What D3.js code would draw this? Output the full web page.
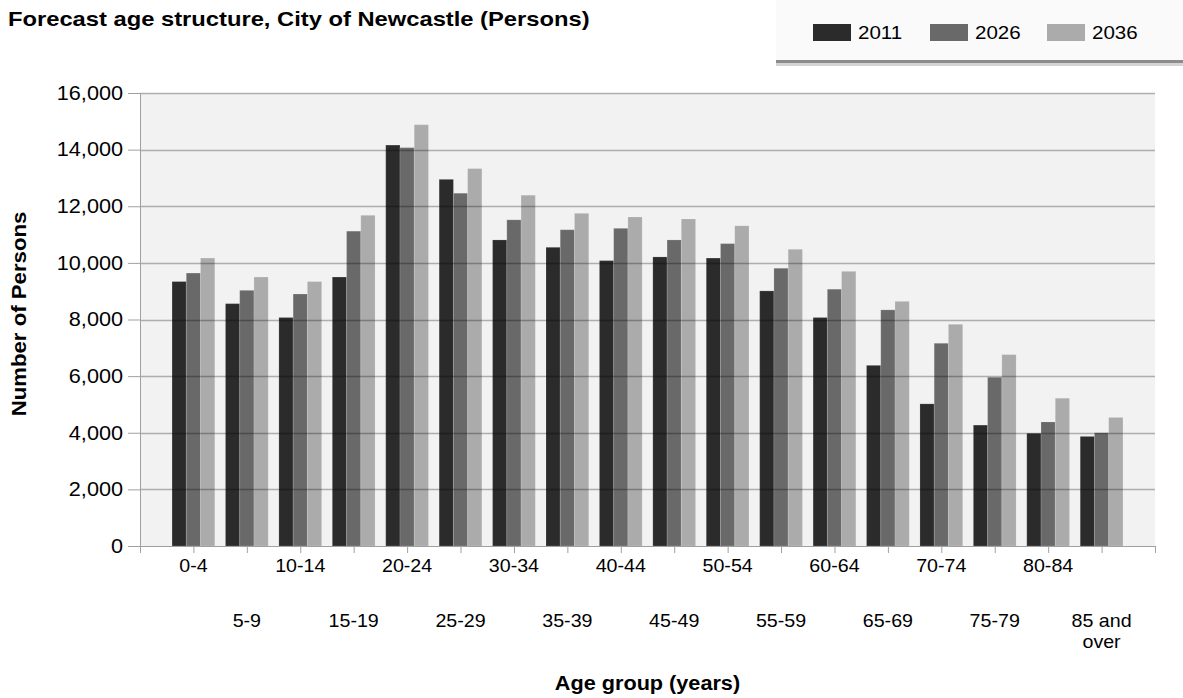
<!DOCTYPE html>
<html>
<head>
<meta charset="utf-8">
<script src="https://cdn.jsdelivr.net/npm/d3@7/dist/d3.min.js"></script>
<style>
  body { margin: 0; background: #fff; }
  svg { display: block; font-family: "Liberation Sans", Arial, sans-serif; }
</style>
</head>
<body>
<div id="chart"></div>
<script>
// age groups
var ageGroups = ["0-4", "5-9", "10-14", "15-19", "20-24", "25-29", "30-34", "35-39", "40-44",
  "45-49", "50-54", "55-59", "60-64", "65-69", "70-74", "75-79", "80-84", "85 and over"];

var years = ["2011", "2026", "2036"];

var values2011 = [9340, 8560, 8070, 9500, 14160, 12950, 10810, 10550, 10080, 10210, 10170, 9010, 8070, 6380, 5020, 4270, 3980, 3870];
var values2026 = [9640, 9030, 8900, 11120, 14070, 12460, 11520, 11170, 11220, 10810, 10680, 9810, 9070, 8340, 7160, 5960, 4380, 4000];
var values2036 = [10170, 9500, 9340, 11680, 14880, 13330, 12390, 11750, 11620, 11550, 11310, 10480, 9700, 8640, 7830, 6760, 5220, 4540];

var yTicks = [0, 2000, 4000, 6000, 8000, 10000, 12000, 14000, 16000];

var colors = ["#2b2b2b", "#696969", "#ababab"];

var W = 1183, H = 698;
var margin = { top: 93, right: 28, bottom: 152, left: 140 };
var width = W - margin.left - margin.right;
var height = H - margin.top - margin.bottom;

// the original text is a bit wider than Liberation Sans
var stretch = 1.11;

var series = [values2011, values2026, values2036];

var svg = d3.select("#chart").append("svg")
  .attr("width", W)
  .attr("height", H);

// title
svg.append("text")
  .attr("class", "title")
  .attr("x", 8)
  .attr("y", 25.5)
  .attr("font-size", 21)
  .attr("font-weight", "bold")
  .attr("fill", "#000")
  .text("Forecast age structure, City of Newcastle (Persons)");

// legend box with a shadow under it
var legend = svg.append("g");
legend.append("rect")
  .attr("x", 776).attr("y", 60).attr("width", 420).attr("height", 6)
  .attr("fill", "#d4d4d4");
legend.append("rect")
  .attr("x", 776).attr("y", 60).attr("width", 420).attr("height", 3)
  .attr("fill", "#8c8c8c");
legend.append("rect")
  .attr("x", 776).attr("y", -2).attr("width", 420).attr("height", 62)
  .attr("fill", "#fafafa");

var legendX = d3.scaleLinear().domain([0, 1]).range([813, 930]);
years.forEach(function (yr, i) {
  legend.append("rect")
    .attr("x", legendX(i)).attr("y", 24)
    .attr("width", 38).attr("height", 17)
    .attr("fill", colors[i]);
  legend.append("text")
    .attr("x", legendX(i) + 45).attr("y", 38.5)
    .attr("font-size", 18.5)
    .attr("fill", "#000")
    .text(yr);
});

var g = svg.append("g")
  .attr("transform", "translate(" + margin.left + "," + margin.top + ")");

var x = d3.scaleLinear().domain([-1, ageGroups.length]).range([0, width]);
var unit = x(1) - x(0);
var x1 = d3.scaleBand().domain(years).range([-unit * 0.4, unit * 0.4]);
var y = d3.scaleLinear().domain([0, 16000]).range([height, 0]);

// plot background
g.append("rect")
  .attr("width", width).attr("height", height)
  .attr("fill", "#f2f2f2");

// bars
years.forEach(function (yr, s) {
  g.append("g").selectAll("rect")
    .data(series[s])
    .enter().append("rect")
    .attr("x", function (d, i) { return x(i) + x1(yr); })
    .attr("y", function (d) { return y(d); })
    .attr("width", x1.bandwidth())
    .attr("height", function (d) { return height - y(d); })
    .attr("fill", colors[s])
    .attr("stroke", "#fff")
    .attr("stroke-opacity", 0.15)
    .attr("stroke-width", 1);
});

// gridlines over the bars
g.append("g").selectAll("line")
  .data(yTicks.slice(1))
  .enter().append("line")
  .attr("x1", 0).attr("x2", width)
  .attr("y1", function (d) { return Math.round(y(d)) + 0.5; })
  .attr("y2", function (d) { return Math.round(y(d)) + 0.5; })
  .attr("stroke", "#000")
  .attr("stroke-opacity", 0.28)
  .attr("stroke-width", 1.5);

// y axis
var yAxis = g.append("g")
  .call(d3.axisLeft(y).tickValues(yTicks).tickSize(12).tickPadding(5)
    .tickFormat(d3.format(",")));
yAxis.select(".domain").attr("stroke", "#a0a0a0");
yAxis.selectAll(".tick line").attr("stroke", "#a0a0a0");
yAxis.selectAll(".tick text")
  .attr("font-size", 19.5)
  .attr("font-family", "Liberation Sans, Arial, sans-serif")
  .attr("fill", "#000");

// x axis: ticks at each group plus the two ends
var xTickVals = [-1].concat(d3.range(ageGroups.length)).concat([ageGroups.length]);
var xAxis = g.append("g")
  .attr("transform", "translate(0," + height + ")")
  .call(d3.axisBottom(x).tickValues(xTickVals).tickSize(7).tickFormat(""));
xAxis.select(".domain").attr("stroke", "#a0a0a0");
xAxis.selectAll(".tick line").attr("stroke", "#a0a0a0");

// alternating category labels
var labels = g.append("g").attr("font-size", 17.7).attr("text-anchor", "middle").attr("fill", "#000");
ageGroups.forEach(function (name, i) {
  var t = labels.append("text")
    .attr("x", x(i))
    .attr("y", height + (i % 2 === 0 ? 26 : 80.5));
  if (name === "85 and over") {
    t.append("tspan").attr("x", x(i)).text("85 and");
    t.append("tspan").attr("x", x(i)).attr("dy", 21).text("over");
  } else {
    t.text(name);
  }
});

// axis titles
svg.append("text")
  .attr("x", margin.left + width / 2)
  .attr("y", 690)
  .attr("text-anchor", "middle")
  .attr("font-size", 19.5)
  .attr("font-weight", "bold")
  .text("Age group (years)");

svg.append("text")
  .attr("transform", "translate(26," + 314 + ") rotate(-90)")
  .attr("text-anchor", "middle")
  .attr("font-size", 20)
  .attr("font-weight", "bold")
  .text("Number of Persons");

// widen every piece of text a little
svg.selectAll("text, tspan").each(function () {
  var el = this;
  var hasChildEl = Array.prototype.some.call(el.childNodes, function (n) { return n.nodeType === 1; });
  if (hasChildEl || !el.textContent) return;
  var k = el.getAttribute("class") === "title" ? 1.13 : stretch;
  var len = el.getComputedTextLength();
  el.setAttribute("textLength", len * k);
  el.setAttribute("lengthAdjust", "spacingAndGlyphs");
});
</script>
</body>
</html>
